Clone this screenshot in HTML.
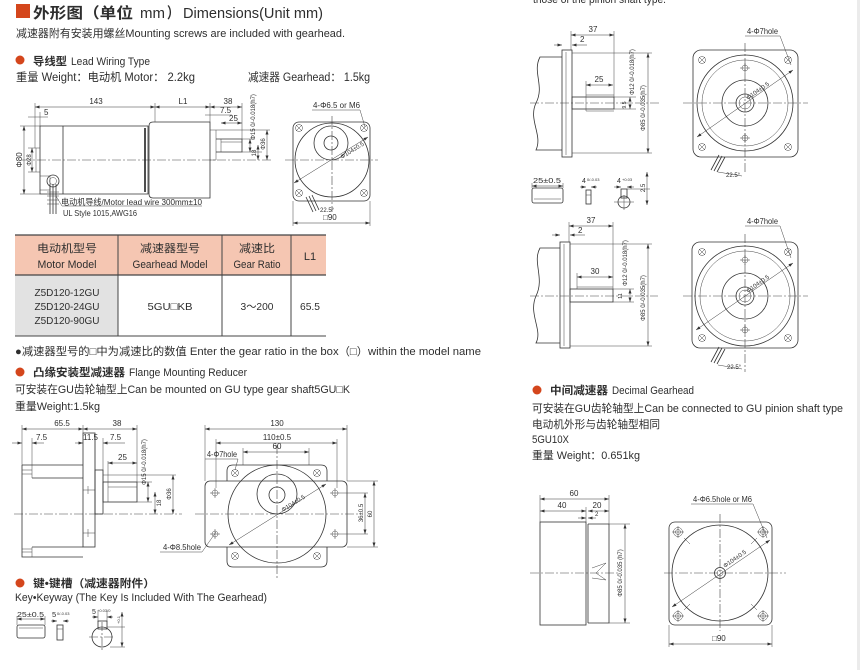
<!DOCTYPE html>
<html><head><meta charset="utf-8">
<style>
html,body{margin:0;padding:0;background:#fff;}
svg{display:block;}
text{font-family:"Liberation Sans","Noto Sans CJK SC",sans-serif;fill:#2e2e2e;}
.l{stroke:#333;stroke-width:0.8;fill:none;}
.t{stroke:#444;stroke-width:0.5;fill:none;}
.k{stroke:#222;stroke-width:1.6;fill:none;}
.c{stroke:#444;stroke-width:0.6;fill:none;stroke-dasharray:9 2 2 2;}
.d{stroke:#333;stroke-width:0.5;fill:none;marker-start:url(#a);marker-end:url(#a);}
.e{stroke:#333;stroke-width:0.5;fill:none;marker-end:url(#a);}
.s{font-size:8px;}
.xs{font-size:6px;}
.b{font-weight:bold;}
</style></head><body>
<svg width="860" height="670" viewBox="0 0 860 670" xmlns="http://www.w3.org/2000/svg">
<defs>
<marker id="a" viewBox="0 0 6 4" refX="6" refY="2" markerWidth="5" markerHeight="3" orient="auto-start-reverse" markerUnits="userSpaceOnUse"><path d="M0,0 L6,2 L0,4z" fill="#333"/></marker>
<g id="hx" class="t"><circle r="3.5"/><path d="M-3,-3L3,3M-3,3L3,-3"/></g>
<g id="hc" class="t"><circle r="4.5"/><circle r="2.5"/><path d="M-6,0H6M0,-6V6"/></g>
<g id="ho" class="t"><circle r="3"/><path d="M-5,0H5M0,-5V5"/></g>
</defs>

<!-- right edge strip -->
<rect x="857" y="0" width="3" height="670" fill="#ebebeb"/>

<!-- ============ HEADER ============ -->
<rect x="16" y="4" width="14" height="14" fill="#d4461c"/>
<text x="33" y="18" font-size="15" class="b" textLength="100" lengthAdjust="spacingAndGlyphs">外形图（单位</text>
<text x="140" y="18" font-size="15" textLength="25" lengthAdjust="spacingAndGlyphs">mm</text>
<text x="167" y="18" font-size="15" class="b" textLength="12" lengthAdjust="spacingAndGlyphs">）</text>
<text x="183" y="18" font-size="15" textLength="140" lengthAdjust="spacingAndGlyphs">Dimensions(Unit mm)</text>
<text x="16" y="37" font-size="11" textLength="329" lengthAdjust="spacingAndGlyphs">减速器附有安装用螺丝Mounting screws are included with gearhead.</text>
<circle cx="20" cy="60" r="4.5" fill="#d4461c"/>
<text x="33" y="65" font-size="11" class="b" textLength="34" lengthAdjust="spacingAndGlyphs">导线型</text>
<text x="71" y="65" font-size="11" textLength="79" lengthAdjust="spacingAndGlyphs">Lead Wiring Type</text>
<text x="16" y="81" font-size="11.5" textLength="179" lengthAdjust="spacingAndGlyphs">重量 Weight：电动机 Motor： 2.2kg</text>
<text x="248" y="81" font-size="11.5" textLength="122" lengthAdjust="spacingAndGlyphs">减速器 Gearhead： 1.5kg</text>

<!-- ============ TOP-LEFT SIDE VIEW ============ -->
<line class="c" x1="22" y1="160" x2="272" y2="160"/>
<path class="l" d="M40,126H148V194H40Z"/>
<line class="l" x1="63" y1="126" x2="63" y2="194"/>
<line class="k" x1="145" y1="128" x2="145" y2="192"/>
<path class="t" d="M36,148H40M36,172H40M36,148V172"/>
<path class="t" d="M40,176H50V190H40"/>
<circle class="l" cx="53" cy="181" r="6"/>
<circle class="t" cx="53" cy="181" r="3.5"/>
<path class="l" d="M50,184V214M53,184V214M56,184V214"/>
<path class="t" d="M47,192H59M47,196H59M47,200H59M47,204H59"/>
<path class="t" d="M56,196L62,206H202"/>
<text x="61" y="205" font-size="8.5" textLength="141" lengthAdjust="spacingAndGlyphs">电动机导线/Motor lead wire 300mm±10</text>
<text x="63" y="216" font-size="8.5" textLength="74" lengthAdjust="spacingAndGlyphs">UL Style 1015,AWG16</text>
<path class="l" d="M153,122H210V198H153Q149,198 149,194V126Q149,122 153,122Z"/>
<path class="t" d="M210,130H216V160H210"/>
<path class="l" d="M216,139H242V152H216"/>
<line class="t" x1="221" y1="142" x2="242" y2="142"/>
<line class="t" x1="221" y1="139" x2="221" y2="152"/>
<path class="t" d="M35,103V148M155,103V122M210,103V122M242,103V139M40,112V126"/>
<line class="d" x1="35" y1="107" x2="155" y2="107"/>
<line class="d" x1="155" y1="107" x2="210" y2="107"/>
<line class="d" x1="210" y1="107" x2="242" y2="107"/>
<text x="96" y="104" class="s" text-anchor="middle">143</text>
<text x="183" y="104" class="s" text-anchor="middle">L1</text>
<text x="228" y="104" class="s" text-anchor="middle">38</text>
<line class="t" x1="28" y1="117" x2="48" y2="117"/>
<text x="44" y="115" class="s">5</text>
<line class="t" x1="205" y1="115" x2="232" y2="115"/>
<text x="220" y="113" class="s">7.5</text>
<line class="d" x1="221" y1="123" x2="242" y2="123"/>
<text x="229" y="121" class="s">25</text>
<path class="t" d="M242,139H255M242,152H262M216,130H270"/>
<line class="d" x1="250" y1="139" x2="250" y2="152"/>
<text transform="translate(255,117) rotate(-90)" class="xs" text-anchor="middle">Φ15 0/-0.018(h7)</text>
<line class="d" x1="258" y1="145" x2="258" y2="160"/>
<text transform="translate(256,153) rotate(-90)" class="xs" text-anchor="middle">18</text>
<line class="d" x1="267" y1="130" x2="267" y2="160"/>
<text transform="translate(265,144) rotate(-90)" class="xs" text-anchor="middle">Φ36</text>
<path class="t" d="M20,126H40M20,194H40M28,148H36M28,172H36"/>
<line class="d" x1="24" y1="126" x2="24" y2="194"/>
<text transform="translate(22,160) rotate(-90)" class="s" text-anchor="middle">Φ80</text>
<line class="d" x1="32" y1="148" x2="32" y2="172"/>
<text transform="translate(31,160) rotate(-90)" class="xs" text-anchor="middle">Φ28</text>

<!-- ============ TOP-LEFT FRONT VIEW ============ -->
<rect class="l" x="293" y="122" width="77" height="79" rx="6"/>
<circle class="l" cx="332" cy="160" r="37"/>
<circle class="l" cx="331" cy="143" r="17"/>
<circle class="l" cx="331" cy="143" r="7"/>
<path class="c" d="M285,160H378M332,116V212"/>
<use href="#hx" x="299" y="128"/><use href="#hx" x="364" y="128"/>
<use href="#hx" x="299" y="193"/><use href="#hx" x="364" y="193"/>
<text x="313" y="108" class="s" textLength="47" lengthAdjust="spacingAndGlyphs">4-Φ6.5 or M6</text>
<path class="t" d="M312,110H360L365,127"/>
<line class="d" x1="294" y1="183" x2="368" y2="137"/>
<text transform="translate(342,159) rotate(-32)" class="xs">Φ104±0.5</text>
<path class="l" d="M306,197L313,212M309,196L316,211M312,195L319,210"/>
<text x="320" y="212" class="xs">22.5°</text>
<path class="t" d="M293,201V226M370,201V226"/>
<line class="d" x1="293" y1="223" x2="370" y2="223"/>
<text x="323" y="220" class="s">□90</text>

<!-- ============ TABLE ============ -->
<rect x="15" y="235" width="311" height="40" fill="#f5c6b2"/>
<rect x="15" y="275" width="103" height="61" fill="#e2e2e2"/>
<line x1="15" y1="235" x2="326" y2="235" stroke="#444" stroke-width="1.2"/>
<line x1="15" y1="275" x2="326" y2="275" stroke="#444" stroke-width="1.2"/>
<line x1="15" y1="336" x2="326" y2="336" stroke="#444" stroke-width="1"/>
<path d="M118,235V336M222,235V336M291,235V336" stroke="#444" stroke-width="1"/>
<g font-size="11" text-anchor="middle">
<text x="67" y="252" textLength="60" lengthAdjust="spacingAndGlyphs">电动机型号</text>
<text x="67" y="268" textLength="59" lengthAdjust="spacingAndGlyphs">Motor Model</text>
<text x="170" y="252" textLength="60" lengthAdjust="spacingAndGlyphs">减速器型号</text>
<text x="170" y="268" textLength="75" lengthAdjust="spacingAndGlyphs">Gearhead Model</text>
<text x="257" y="252" textLength="36" lengthAdjust="spacingAndGlyphs">减速比</text>
<text x="257" y="268" textLength="47" lengthAdjust="spacingAndGlyphs">Gear Ratio</text>
<text x="310" y="260">L1</text>
</g>
<g font-size="10.5" text-anchor="middle">
<text x="67" y="296" textLength="65" lengthAdjust="spacingAndGlyphs">Z5D120-12GU</text>
<text x="67" y="310" textLength="65" lengthAdjust="spacingAndGlyphs">Z5D120-24GU</text>
<text x="67" y="324" textLength="65" lengthAdjust="spacingAndGlyphs">Z5D120-90GU</text>
<text x="170" y="310" textLength="45" lengthAdjust="spacingAndGlyphs">5GU□KB</text>
<text x="257" y="310" textLength="33" lengthAdjust="spacingAndGlyphs">3～200</text>
<text x="310" y="310" textLength="20" lengthAdjust="spacingAndGlyphs">65.5</text>
</g>
<text x="15" y="355" font-size="11" textLength="466" lengthAdjust="spacingAndGlyphs">●减速器型号的□中为减速比的数值 Enter the gear ratio in the box（□）within the model name</text>
<circle cx="20" cy="372" r="4.5" fill="#d4461c"/>
<text x="33" y="376" font-size="11" class="b" textLength="92" lengthAdjust="spacingAndGlyphs">凸缘安装型减速器</text>
<text x="129" y="376" font-size="11" textLength="118" lengthAdjust="spacingAndGlyphs">Flange Mounting Reducer</text>
<text x="15" y="393" font-size="11" textLength="335" lengthAdjust="spacingAndGlyphs">可安装在GU齿轮轴型上Can be mounted on GU type gear shaft5GU□K</text>
<text x="15" y="410" font-size="11" textLength="85" lengthAdjust="spacingAndGlyphs">重量Weight:1.5kg</text>

<!-- ============ FLANGE SIDE VIEW ============ -->
<line class="c" x1="14" y1="514" x2="182" y2="514"/>
<path class="l" d="M22,465V557H83M22,465H83M32,478H83M32,547H83"/>
<path class="t" d="M22,470H32M22,474H32M22,552H32M22,549H32M32,465V478M32,547V557"/>
<rect class="l" x="83" y="433" width="12" height="114"/>
<path class="t" d="M83,490H95M83,533H95M88,486V494M88,529V537"/>
<rect class="l" x="95" y="470" width="8" height="44"/>
<rect class="l" x="103" y="482" width="34" height="20"/>
<line class="t" x1="108" y1="487" x2="137" y2="487"/>
<line class="t" x1="108" y1="482" x2="108" y2="502"/>
<path class="t" d="M22,425V465M83,425V433M137,425V482M32,438V465M95,438V470M103,438V482"/>
<line class="d" x1="22" y1="429" x2="83" y2="429"/>
<line class="d" x1="83" y1="429" x2="137" y2="429"/>
<text x="62" y="426" class="s" text-anchor="middle">65.5</text>
<text x="117" y="426" class="s" text-anchor="middle">38</text>
<line class="e" x1="12" y1="443" x2="22" y2="443"/>
<line class="e" x1="44" y1="443" x2="32" y2="443"/>
<text x="36" y="440" class="s">7.5</text>
<line class="e" x1="75" y1="443" x2="83" y2="443"/>
<line class="e" x1="125" y1="443" x2="103" y2="443"/>
<text x="83" y="440" class="s">11.5</text>
<text x="110" y="440" class="s">7.5</text>
<path class="t" d="M108,461V482"/>
<line class="d" x1="108" y1="463" x2="137" y2="463"/>
<text x="118" y="460" class="s">25</text>
<path class="t" d="M137,482H152M137,502H152M103,475H176"/>
<line class="d" x1="148" y1="482" x2="148" y2="502"/>
<text transform="translate(146,462) rotate(-90)" class="xs" text-anchor="middle">Φ15 0/-0.018(h7)</text>
<line class="d" x1="155" y1="492" x2="155" y2="514"/>
<text transform="translate(161,503) rotate(-90)" class="xs" text-anchor="middle">18</text>
<line class="d" x1="173" y1="475" x2="173" y2="514"/>
<text transform="translate(171,494) rotate(-90)" class="xs" text-anchor="middle">Φ36</text>

<!-- ============ FLANGE FRONT VIEW ============ -->
<rect class="l" x="205" y="481" width="142" height="66" rx="5"/>
<path class="l" d="M227,481V471Q227,465 233,465H321Q327,465 327,471V481M227,547V561Q227,567 233,567H321Q327,567 327,561V547"/>
<circle class="l" cx="277" cy="514" r="49"/>
<circle class="l" cx="277" cy="494" r="20"/>
<circle class="l" cx="277" cy="495" r="8"/>
<path class="c" d="M195,514H358M277,445V578"/>
<use href="#ho" x="215" y="493"/><use href="#ho" x="335" y="493"/>
<use href="#ho" x="215" y="534"/><use href="#ho" x="335" y="534"/>
<use href="#hx" x="235" y="473"/><use href="#hx" x="317" y="473"/>
<use href="#hx" x="235" y="556"/><use href="#hx" x="317" y="556"/>
<path class="t" d="M205,425V481M347,425V481M216,439V488M337,439V488M243,448V465M309,448V465"/>
<line class="d" x1="205" y1="429" x2="347" y2="429"/>
<line class="d" x1="216" y1="443" x2="337" y2="443"/>
<line class="d" x1="243" y1="452" x2="309" y2="452"/>
<text x="277" y="426" class="s" text-anchor="middle">130</text>
<text x="277" y="440" class="s" text-anchor="middle">110±0.5</text>
<text x="277" y="449" class="s" text-anchor="middle">60</text>
<text x="207" y="457" class="s" textLength="30" lengthAdjust="spacingAndGlyphs">4-Φ7hole</text>
<path class="t" d="M205,459H238L235,470"/>
<text x="163" y="550" class="s" textLength="38" lengthAdjust="spacingAndGlyphs">4-Φ8.5hole</text>
<path class="t" d="M160,552H202L216,532"/>
<line class="d" x1="229" y1="545" x2="326" y2="484"/>
<text transform="translate(283,512) rotate(-32)" class="xs">Φ104±0.5</text>
<path class="t" d="M347,481H378M340,493H368M340,534H368M347,547H378"/>
<line class="d" x1="365" y1="493" x2="365" y2="534"/>
<line class="d" x1="374" y1="481" x2="374" y2="547"/>
<text transform="translate(363,513) rotate(-90)" class="xs" text-anchor="middle">36±0.5</text>
<text transform="translate(372,514) rotate(-90)" class="xs" text-anchor="middle">60</text>

<!-- ============ KEY SECTION ============ -->
<circle cx="20" cy="583" r="4.5" fill="#d4461c"/>
<text x="33" y="587" font-size="11" class="b" textLength="122" lengthAdjust="spacingAndGlyphs">键•键槽（减速器附件）</text>
<text x="15" y="601" font-size="11" textLength="252" lengthAdjust="spacingAndGlyphs">Key•Keyway (The Key Is Included  With The Gearhead)</text>
<text x="17" y="617" font-size="7.5" textLength="27" lengthAdjust="spacingAndGlyphs">25±0.5</text>
<path class="t" d="M17,616V625M45,616V625"/>
<line class="d" x1="17" y1="619" x2="45" y2="619"/>
<rect class="l" x="17" y="625" width="28" height="13" rx="2"/>
<line class="t" x1="19" y1="628" x2="43" y2="628"/>
<text x="52" y="617" font-size="7.5">5</text><text x="57" y="615" font-size="4">0/-0.03</text>
<line class="e" x1="51" y1="621" x2="57" y2="621"/><line class="e" x1="69" y1="621" x2="63" y2="621"/>
<rect class="l" x="57" y="625" width="6" height="15"/>
<line class="t" x1="57" y1="629" x2="63" y2="629"/>
<text x="92" y="614" font-size="7">5</text><text x="97" y="612" font-size="4">+0.03/0</text>
<path class="t" d="M98,611V622M107,611V622"/>
<line class="e" x1="92" y1="617" x2="98" y2="617"/><line class="e" x1="113" y1="617" x2="107" y2="617"/>
<circle class="l" cx="102" cy="637" r="10"/>
<rect class="l" x="98" y="621" width="9" height="8"/>
<path class="c" d="M89,637H115M102,622V652"/>
<path class="t" d="M107,627H125M110,647H125"/>
<line class="d" x1="122" y1="612" x2="122" y2="647"/>
<text transform="translate(120,620) rotate(-90)" font-size="4" text-anchor="middle">+0.1</text>

<!-- ============ RIGHT COLUMN TOP ============ -->
<text x="533" y="3" font-size="11" textLength="133" lengthAdjust="spacingAndGlyphs">those of the pinion shaft type.</text>

<line class="c" x1="530" y1="103" x2="660" y2="103"/>
<path class="l" d="M562,57H540C532,72 545,86 536,103C528,120 543,135 536,150H562"/>
<rect class="l" x="562" y="50" width="10" height="107"/>
<line class="t" x1="566" y1="52" x2="566" y2="155"/>
<path class="t" d="M572,53H652M572,153H652"/>
<rect class="l" x="572" y="97" width="42" height="12"/>
<path class="t" d="M586,95V111M586,95H614M586,111H614"/>
<path class="t" d="M571,31V50M614,31V97M586,81V95"/>
<line class="d" x1="571" y1="35" x2="614" y2="35"/>
<text x="593" y="32" class="s" text-anchor="middle">37</text>
<line class="e" x1="554" y1="45" x2="562" y2="45"/><line class="e" x1="587" y1="45" x2="572" y2="45"/>
<text x="580" y="42" class="s">2</text>
<line class="d" x1="586" y1="85" x2="613" y2="85"/>
<text x="599" y="82" class="s" text-anchor="middle">25</text>
<path class="t" d="M614,97H636M614,109H636"/>
<line class="d" x1="630" y1="97" x2="630" y2="109"/>
<text transform="translate(634,72) rotate(-90)" class="xs" text-anchor="middle">Φ12 0/-0.018(h7)</text>
<text transform="translate(626,105) rotate(-90)" font-size="5" text-anchor="middle">9.5</text>
<line class="d" x1="648" y1="53" x2="648" y2="153"/>
<text transform="translate(645,108) rotate(-90)" class="xs" text-anchor="middle">Φ85 0/-0.035(h7)</text>

<rect class="l" x="693" y="50" width="105" height="107" rx="8"/>
<circle class="l" cx="745" cy="103" r="48"/>
<circle class="t" cx="745" cy="103" r="43"/>
<circle class="l" cx="745" cy="103" r="23"/>
<circle class="l" cx="745" cy="103" r="9"/>
<circle class="t" cx="745" cy="103" r="6"/>
<path class="c" d="M683,103H808M745,43V174"/>
<use href="#hx" x="702" y="60"/><use href="#hx" x="788" y="60"/>
<use href="#hx" x="702" y="147"/><use href="#hx" x="788" y="147"/>
<use href="#ho" x="745" y="68"/><use href="#ho" x="745" y="138"/>
<text x="747" y="34" class="s" textLength="31" lengthAdjust="spacingAndGlyphs">4-Φ7hole</text>
<path class="t" d="M745,36H780L791,65"/>
<line class="d" x1="697" y1="137" x2="793" y2="70"/>
<text transform="translate(748,100) rotate(-35)" class="xs">Φ104±0.5</text>
<path class="l" d="M719,155L711,170M722,156L714,171M725,157L717,172"/>
<path class="t" d="M718,172L742,176"/>
<text x="726" y="177" class="xs">22.5°</text>

<text x="533" y="183" font-size="7.5" textLength="28" lengthAdjust="spacingAndGlyphs">25±0.5</text>
<path class="t" d="M532,183V188M563,183V188"/>
<line class="d" x1="532" y1="186" x2="563" y2="186"/>
<rect class="l" x="532" y="188" width="31" height="15" rx="2"/>
<line class="t" x1="534" y1="199" x2="561" y2="199"/>
<text x="582" y="183" font-size="7">4</text><text x="587" y="181" font-size="4">0/-0.03</text>
<line class="e" x1="580" y1="187" x2="586" y2="187"/><line class="e" x1="597" y1="187" x2="591" y2="187"/>
<rect class="l" x="586" y="190" width="5" height="14"/>
<line class="t" x1="586" y1="195" x2="591" y2="195"/>
<text x="617" y="183" font-size="7">4</text><text x="622" y="181" font-size="4">+0.03</text>
<line class="e" x1="614" y1="187" x2="621" y2="187"/><line class="e" x1="634" y1="187" x2="627" y2="187"/>
<rect class="l" x="621" y="189" width="6" height="9"/>
<circle class="l" cx="624" cy="202" r="6"/>
<path class="t" d="M614,202H634M624,195V210M627,189H650"/>
<line class="d" x1="647" y1="172" x2="647" y2="205"/>
<text transform="translate(645,188) rotate(-90)" class="xs" text-anchor="middle">2.5</text>

<!-- ============ RIGHT COLUMN MIDDLE ============ -->
<line class="c" x1="530" y1="296" x2="658" y2="296"/>
<path class="l" d="M560,248H540C532,262 545,278 536,296C528,314 543,330 536,343H560"/>
<rect class="l" x="560" y="242" width="10" height="106"/>
<line class="t" x1="564" y1="244" x2="564" y2="346"/>
<path class="t" d="M570,244H652M570,346H652"/>
<rect class="l" x="570" y="289" width="43" height="13"/>
<path class="t" d="M577,273V289M577,287H613"/>
<path class="t" d="M569,222V242M613,222V289"/>
<line class="d" x1="569" y1="226" x2="613" y2="226"/>
<text x="591" y="223" class="s" text-anchor="middle">37</text>
<line class="e" x1="552" y1="235" x2="560" y2="235"/><line class="e" x1="585" y1="235" x2="570" y2="235"/>
<text x="578" y="233" class="s">2</text>
<line class="d" x1="577" y1="277" x2="613" y2="277"/>
<text x="595" y="274" class="s" text-anchor="middle">30</text>
<path class="t" d="M613,289H634M613,302H634"/>
<line class="d" x1="630" y1="289" x2="630" y2="302"/>
<text transform="translate(627,263) rotate(-90)" class="xs" text-anchor="middle">Φ12 0/-0.018(h7)</text>
<text transform="translate(622,296) rotate(-90)" font-size="5.5" text-anchor="middle">11</text>
<line class="d" x1="648" y1="244" x2="648" y2="346"/>
<text transform="translate(645,298) rotate(-90)" class="xs" text-anchor="middle">Φ85 0/-0.035(h7)</text>

<rect class="l" x="692" y="242" width="106" height="106" rx="8"/>
<circle class="l" cx="745" cy="296" r="50"/>
<circle class="t" cx="745" cy="296" r="45"/>
<circle class="l" cx="745" cy="296" r="23"/>
<circle class="l" cx="745" cy="296" r="9"/>
<circle class="t" cx="745" cy="296" r="6"/>
<path class="c" d="M683,296H808M745,234V372"/>
<use href="#hx" x="702" y="252"/><use href="#hx" x="788" y="252"/>
<use href="#hx" x="702" y="338"/><use href="#hx" x="788" y="338"/>
<use href="#ho" x="745" y="260"/><use href="#ho" x="745" y="330"/>
<text x="747" y="224" class="s" textLength="31" lengthAdjust="spacingAndGlyphs">4-Φ7hole</text>
<path class="t" d="M745,226H780L791,258"/>
<line class="d" x1="696" y1="330" x2="793" y2="263"/>
<text transform="translate(748,293) rotate(-35)" class="xs">Φ104±0.5</text>
<path class="l" d="M719,347L711,362M722,348L714,363M725,349L717,364"/>
<path class="t" d="M718,365L742,369"/>
<text x="727" y="369" class="xs">22.5°</text>

<!-- ============ DECIMAL GEARHEAD TEXT ============ -->
<circle cx="537" cy="390" r="4.5" fill="#d4461c"/>
<text x="550" y="394" font-size="11" class="b" textLength="58" lengthAdjust="spacingAndGlyphs">中间减速器</text>
<text x="612" y="394" font-size="11" textLength="82" lengthAdjust="spacingAndGlyphs">Decimal Gearhead</text>
<text x="532" y="412" font-size="11" textLength="311" lengthAdjust="spacingAndGlyphs">可安装在GU齿轮轴型上Can be connected to GU pinion shaft type</text>
<text x="532" y="428" font-size="11" textLength="128" lengthAdjust="spacingAndGlyphs">电动机外形与齿轮轴型相同</text>
<text x="532" y="443" font-size="11" textLength="37" lengthAdjust="spacingAndGlyphs">5GU10X</text>
<text x="532" y="459" font-size="11" textLength="108" lengthAdjust="spacingAndGlyphs">重量 Weight：0.651kg</text>

<!-- ============ BOTTOM RIGHT SIDE VIEW ============ -->
<line class="c" x1="530" y1="573" x2="618" y2="573"/>
<rect class="l" x="540" y="522" width="46" height="103"/>
<line class="l" x1="588" y1="524" x2="588" y2="623"/>
<path class="l" d="M588,524H609V623H588"/>
<path class="t" d="M592,568L606,563L596,573L606,580L592,578"/>
<path class="t" d="M540,495V522M609,495V524M586,507V522"/>
<line class="d" x1="540" y1="499" x2="609" y2="499"/>
<line class="d" x1="540" y1="511" x2="586" y2="511"/>
<line class="d" x1="588" y1="511" x2="609" y2="511"/>
<text x="574" y="496" class="s" text-anchor="middle">60</text>
<text x="562" y="508" class="s" text-anchor="middle">40</text>
<text x="597" y="508" class="s" text-anchor="middle">20</text>
<line class="e" x1="578" y1="518" x2="586" y2="518"/><line class="e" x1="596" y1="518" x2="588" y2="518"/>
<text x="595" y="516" class="xs">2</text>
<path class="t" d="M609,524H630M609,623H630"/>
<line class="d" x1="625" y1="524" x2="625" y2="623"/>
<text transform="translate(622,573) rotate(-90)" class="xs" text-anchor="middle">Φ85 0/-0.035 (h7)</text>

<!-- ============ BOTTOM RIGHT FRONT VIEW ============ -->
<rect class="l" x="669" y="522" width="103" height="103" rx="6"/>
<circle class="l" cx="720" cy="573" r="48"/>
<circle class="l" cx="720" cy="573" r="5.5"/>
<circle class="t" cx="720" cy="573" r="3"/>
<path class="c" d="M664,573H786M720,514V631"/>
<use href="#hc" x="678" y="532"/><use href="#hc" x="763" y="532"/>
<use href="#hc" x="678" y="616"/><use href="#hc" x="763" y="616"/>
<path class="t" d="M684,538L690,544M757,538L751,544M684,610L690,604M757,610L751,604"/>
<text x="693" y="502" class="s" textLength="59" lengthAdjust="spacingAndGlyphs">4-Φ6.5hole or M6</text>
<path class="t" d="M691,504H753L767,538"/>
<line class="d" x1="672" y1="607" x2="770" y2="540"/>
<text transform="translate(725,568) rotate(-35)" class="xs">Φ104±0.5</text>
<path class="t" d="M669,625V647M772,625V647"/>
<line class="d" x1="669" y1="644" x2="772" y2="644"/>
<text x="712" y="641" class="s">□90</text>
</svg>
</body></html>
